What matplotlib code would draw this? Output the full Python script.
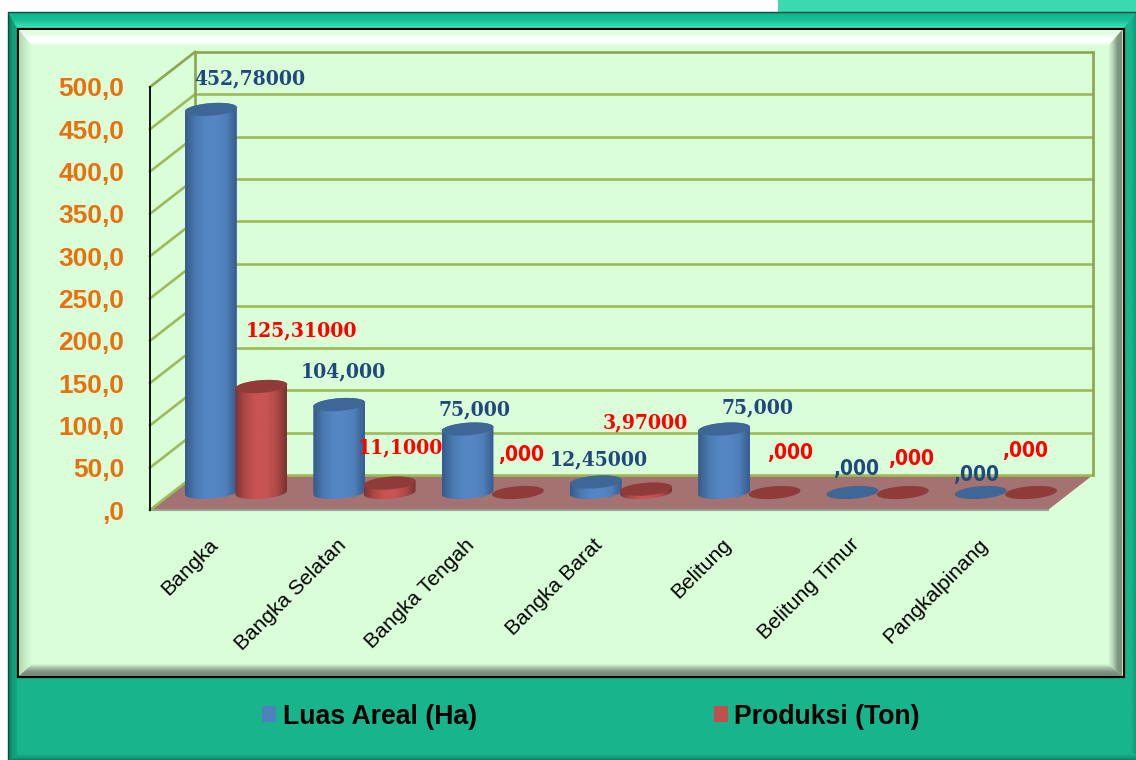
import numpy as np
import matplotlib
matplotlib.use("Agg")
import matplotlib.pyplot as plt
from matplotlib.colors import LinearSegmentedColormap
from matplotlib.patches import Polygon, Patch, Rectangle
from matplotlib.transforms import ScaledTranslation

# ---- data ----
categories = ["Bangka", "Bangka Selatan", "Bangka Tengah", "Bangka Barat",
              "Belitung", "Belitung Timur", "Pangkalpinang"]
luas_areal = [452.78, 104.0, 75.0, 12.45, 75.0, 0.0, 0.0]
produksi = [125.31, 11.1, 0.0, 3.97, 0.0, 0.0, 0.0]
luas_labels = ["452,78000", "104,000", "75,000", "12,45000", "75,000", ",000", ",000"]
produksi_labels = ["125,31000", "11,1000", ",000", "3,97000", ",000", ",000", ",000"]
y_ticks = [0, 50, 100, 150, 200, 250, 300, 350, 400, 450, 500]
y_tick_labels = [",0", "50,0", "100,0", "150,0", "200,0", "250,0", "300,0",
                 "350,0", "400,0", "450,0", "500,0"]
series_names = ["Luas Areal (Ha)", "Produksi (Ton)"]

# ---- label placement (pixels relative to bar top centre) ----
luas_offsets = [(39, 31), (4, 33), (7, 20), (3, 23), (33, 22), (4, 23), (-5, 18)]
produksi_offsets = [(40, 56), (11, 36), (3, 37), (-1, 67), (16, 40), (8, 34), (-6, 41)]

W, H = 1136, 760
fig = plt.figure(figsize=(W / 100, H / 100), dpi=100, facecolor="white")

# ---- frame (pixel space) ----
bg = fig.add_axes([0, 0, 1, 1], zorder=0)
bg.axis("off")


def grad(axis, poly, colors, horizontal, z=1):
    p = np.array(poly, float)
    cm = LinearSegmentedColormap.from_list("g", colors)
    v = np.linspace(0, 1, 256)
    arr = v[None, :] if horizontal else v[:, None]
    im = axis.imshow(arr, cmap=cm, vmin=0, vmax=1, aspect="auto", origin="upper",
                     extent=(p[:, 0].min(), p[:, 0].max(), p[:, 1].max(), p[:, 1].min()),
                     zorder=z, interpolation="bilinear")
    patch = Polygon(p, closed=True, transform=axis.transData, fc="none", ec="none")
    axis.add_patch(patch)
    im.set_clip_path(patch)


bg.add_patch(Rectangle((778, 0), 358, 12, fc="#3bd9b0", ec="none"))
bg.add_patch(Rectangle((8, 12), 1128, 748, fc="#18b48c", ec="none"))
grad(bg, [(1126, 13), (1136, 13), (1136, 760), (1126, 760)], ["#18b48c", "#18b48c", "#11997a"], True)
grad(bg, [(8, 754), (1136, 754), (1136, 760), (8, 760)], ["#18b48c", "#159f7e", "#0f7d62"], False)
grad(bg, [(8, 13), (1136, 13), (1124, 28), (17, 28)], ["#12b48a", "#1cc096", "#40e8bc"], False)
grad(bg, [(8, 13), (17, 28), (17, 757), (8, 760)], ["#0a7a5e", "#0f9a78", "#14a882"], True)
bg.plot([8, 8, 1136], [760, 12, 12], color="#07503e", lw=1.0, solid_capstyle="butt")

bg.add_patch(Rectangle((17.5, 29), 1106, 648, fc="#d9fed8", ec="black", lw=1.6, zorder=2))
grad(bg, [(19, 30), (1122, 30), (1108, 46), (32, 46)],
     ["#e0fede", "#e4ffe4", "#ffffff", "#ffffff", "#d9fed8"], False, z=3)
grad(bg, [(19, 30), (32, 46), (32, 664), (19, 676)], ["#aed8ae", "#c8eec8", "#d9fed8"], True, z=3)
grad(bg, [(1122, 30), (1108, 46), (1108, 664), (1122, 676)],
     ["#d9fed8", "#b9d8b9", "#809a84", "#7a917c"], True, z=3)
grad(bg, [(19, 676), (32, 664), (1108, 664), (1122, 676)],
     ["#d9fed8", "#a4bea4", "#7d9280", "#76887a"], False, z=3)
bg.set_xlim(0, W)
bg.set_ylim(H, 0)

# ---- chart axes: front plane of the 3D box ----
X0, X1, Y0, Y1 = 150, 1048, 510, 87
ax = fig.add_axes([X0 / W, 1 - Y0 / H, (X1 - X0) / W, (Y0 - Y1) / H], zorder=2)
ax.patch.set_alpha(0)
n = len(categories)
PX = n / (X1 - X0)             # data x per pixel
PY = 500 / (Y0 - Y1)           # data y per pixel
DEPTH_X, DEPTH_Y = 45 * PX, 35 * PY
GRID = "#9bbb59"
EDGE = "#8ba64f"

# floor
ax.add_patch(Polygon([(0, 0), (n, 0), (n + DEPTH_X, DEPTH_Y), (DEPTH_X, DEPTH_Y)],
                     closed=True, fc="#a57272", ec="none", zorder=1, clip_on=False))
ax.plot([0, n], [0, 0], color="#98a09a", lw=1.5, zorder=1.5, clip_on=False)
# gridlines on back wall and side wall
for t in y_ticks:
    c = EDGE if t == 500 else GRID
    ax.plot([DEPTH_X, n + DEPTH_X], [t + DEPTH_Y] * 2, color=c, lw=1.9, zorder=2,
            clip_on=False, solid_capstyle="butt")
    ax.plot([0, DEPTH_X], [t, t + DEPTH_Y], color=c, lw=1.9, zorder=2, clip_on=False)
ax.plot([DEPTH_X, DEPTH_X], [DEPTH_Y, 500 + DEPTH_Y], color=EDGE, lw=1.9, zorder=2, clip_on=False)
ax.plot([n + DEPTH_X, n + DEPTH_X], [DEPTH_Y, 500 + DEPTH_Y], color=EDGE, lw=1.9, zorder=2, clip_on=False)

A_PX, B_PX, TILT = 26.0, 6.3, np.deg2rad(4.5)
BASE_PX = 17.5
BASE = BASE_PX * PY


def ell(cx, cy, t):
    xp = A_PX * np.cos(t) * np.cos(TILT) - B_PX * np.sin(t) * np.sin(TILT)
    yp = A_PX * np.cos(t) * np.sin(TILT) + B_PX * np.sin(t) * np.cos(TILT)
    return cx + xp * PX, cy + yp * PY


def cylinder(cx, value, side, top, z):
    y_b, y_t = BASE, BASE + value
    t_all = np.linspace(0, 2 * np.pi, 90)
    if value > 0:
        # lower arc of the base, then the upper arc of the top
        xa, ya = ell(cx, y_b, np.linspace(np.pi, 2 * np.pi, 50))
        xb, yb = ell(cx, y_t, np.linspace(0, np.pi, 50))
        pts = np.column_stack([np.r_[xa, xb], np.r_[ya, yb]])
        patch = ax.add_patch(Polygon(pts, closed=True, fc="none", ec="none", zorder=z))
        cm = LinearSegmentedColormap.from_list("c", side)
        half = A_PX * PX
        im = ax.imshow(np.linspace(0, 1, 256)[None, :], cmap=cm, aspect="auto", vmin=0, vmax=1,
                       extent=(cx - half, cx + half, y_b - 2 * BASE, y_t + 2 * BASE),
                       zorder=z, interpolation="bilinear")
        im.set_clip_path(patch)
    xe, ye = ell(cx, y_t, t_all)
    ax.add_patch(Polygon(np.column_stack([xe, ye]), closed=True, fc=top, ec="none",
                         zorder=z + 0.01, clip_on=False))


BLUE_SIDE = ["#345b88", "#4a78b0", "#5586c4", "#5586c4", "#4f7eb8", "#355c8a"]
RED_SIDE = ["#7c3433", "#ae4847", "#c85454", "#c85454", "#b04a48", "#763231"]
BLUE_TOP, RED_TOP = "#3e6696", "#8f3b39"
GAP = 25.2 * PX
SHIFT = 22 * PX
DARK_BLUE, RED = "#1f497d", "#ff0000"


def put_label(x, value, text, offset, color):
    fam = "DejaVu Sans" if text == ",000" else "DejaVu Serif"
    ax.annotate(text, xy=(x, BASE + value), xytext=offset, textcoords="offset pixels",
                ha="center", va="center", color=color, fontsize=15, fontweight="bold",
                family=fam, stretch="condensed", zorder=50, annotation_clip=False)


for i in range(n):
    c = i + 0.5 + SHIFT
    cylinder(c - GAP, luas_areal[i], BLUE_SIDE, BLUE_TOP, 10 + i)
    cylinder(c + GAP, produksi[i], RED_SIDE, RED_TOP, 10.5 + i)
for i in range(n):
    c = i + 0.5 + SHIFT
    put_label(c - GAP, luas_areal[i], luas_labels[i], luas_offsets[i], DARK_BLUE)
    put_label(c + GAP, produksi[i], produksi_labels[i], produksi_offsets[i], RED)

ax.set_xlim(0, n)
ax.set_ylim(0, 500)
for s in ["top", "right", "bottom"]:
    ax.spines[s].set_visible(False)
ax.spines["left"].set_color("black")
ax.spines["left"].set_linewidth(1.3)
ax.spines["left"].set_zorder(3)
ax.set_yticks(y_ticks)
ax.set_yticklabels(y_tick_labels, fontsize=19, fontweight="bold", color="#e8700e",
                   family="Liberation Sans")
ax.tick_params(axis="y", length=0, pad=18.5)
ax.set_xticks(np.arange(n) + 0.5)
ax.set_xticklabels(categories, rotation=45, ha="right", va="top", rotation_mode="anchor",
                   fontsize=15.1, family="Liberation Sans", color="black")
ax.tick_params(axis="x", length=0, pad=18)
shift_x = ScaledTranslation(-6 / 100, 0, fig.dpi_scale_trans)
for lab in ax.get_xticklabels():
    lab.set_transform(lab.get_transform() + shift_x)

# ---- legend ----
handles = [Patch(fc="#4f81bd", ec="none", label=series_names[0]),
           Patch(fc="#c0504d", ec="none", label=series_names[1])]
leg = fig.legend(handles=handles, loc="center", bbox_to_anchor=(591 / W, 1 - 716.5 / H), ncol=2,
                 frameon=False, handlelength=0.53, handleheight=0.53, handletextpad=0.24,
                 columnspacing=8.88, borderpad=0, borderaxespad=0,
                 prop={"family": "Liberation Sans", "weight": "bold", "size": 19.2})
leg.set_zorder(20)

fig.savefig("out.png", dpi=100)
